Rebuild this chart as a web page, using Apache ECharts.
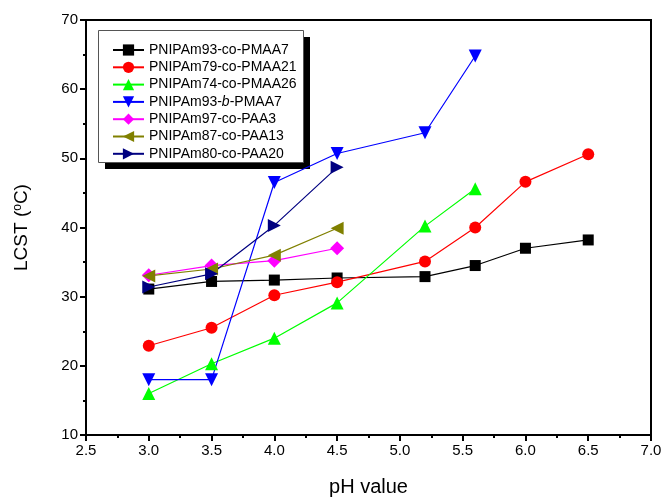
<!DOCTYPE html>
<html>
<head>
<meta charset="utf-8">
<script src="https://cdn.jsdelivr.net/npm/echarts@6/dist/echarts.min.js"></script>
<style>html,body{margin:0;padding:0;background:#fff}#c{width:666px;height:502px}</style>
</head>
<body>
<div id="c"></div>
<script>
// ---- data ----
const seriesNames = ['PNIPAm93-co-PMAA7','PNIPAm79-co-PMAA21','PNIPAm74-co-PMAA26','PNIPAm93-b-PMAA7','PNIPAm97-co-PAA3','PNIPAm87-co-PAA13','PNIPAm80-co-PAA20'];
const phPMAA7 = [3.0,3.5,4.0,4.5,5.2,5.6,6.0,6.5];
const lcstPMAA7 = [31.1,32.2,32.4,32.7,32.9,34.5,37.0,38.2];
const phPMAA21 = [3.0,3.5,4.0,4.5,5.2,5.6,6.0,6.5];
const lcstPMAA21 = [22.9,25.5,30.2,32.1,35.1,40.0,46.6,50.6];
const phPMAA26 = [3.0,3.5,4.0,4.5,5.2,5.6];
const lcstPMAA26 = [16.0,20.3,24.0,29.1,40.2,45.6];
const phBlock = [3.0,3.5,4.0,4.5,5.2,5.6];
const lcstBlock = [18.0,18.0,46.5,50.7,53.7,64.8];
const phPAA3 = [3.0,3.5,4.0,4.5];
const lcstPAA3 = [33.1,34.5,35.2,37.0];
const phPAA13 = [3.0,3.5,4.0,4.5];
const lcstPAA13 = [33.0,34.0,36.0,39.9];
const phPAA20 = [3.0,3.5,4.0,4.5];
const lcstPAA20 = [31.4,33.3,40.3,48.7];
const xTicks = {min:2.5, max:7.0, interval:0.5};
const yTicks = {min:10, max:70, interval:10};

const pairs = (xs, ys) => xs.map((x,i)=>[x, ys[i]]);
const FONT = 'Liberation Sans, Arial, sans-serif';

const styles = [
  {color:'#000000', symbol:'rect', size:11, rot:0},
  {color:'#ff0000', symbol:'circle', size:12, rot:0},
  {color:'#00ff00', symbol:'triangle', size:13, rot:0},
  {color:'#0000ff', symbol:'triangle', size:13, rot:180},
  {color:'#ff00ff', symbol:'diamond', size:14, rot:0},
  {color:'#808000', symbol:'triangle', size:13, rot:90},
  {color:'#000080', symbol:'triangle', size:13, rot:-90}
];
const dataSets = [
  pairs(phPMAA7, lcstPMAA7), pairs(phPMAA21, lcstPMAA21), pairs(phPMAA26, lcstPMAA26),
  pairs(phBlock, lcstBlock), pairs(phPAA3, lcstPAA3), pairs(phPAA13, lcstPAA13), pairs(phPAA20, lcstPAA20)
];

const series = seriesNames.map((n,i)=>({
  name:n, type:'line', data:dataSets[i],
  symbol:styles[i].symbol, symbolSize:styles[i].size, symbolRotate:styles[i].rot,
  lineStyle:{color:styles[i].color, width:1.2},
  itemStyle:{color:styles[i].color},
  animation:false
}));

const chart = echarts.init(document.getElementById('c'), null, {renderer:'canvas'});
chart.setOption({
  backgroundColor:'#fff',
  animation:false,
  grid:{left:86, right:15, top:20, bottom:65, show:true, borderColor:'#000', borderWidth:2, backgroundColor:'transparent'},
  graphic:[
    {type:'rect', z:3, shape:{x:105, y:37, width:205, height:132}, style:{fill:'#000'}, silent:true},
    {type:'rect', z:3, shape:{x:98.5, y:30.5, width:205, height:132}, style:{fill:'#fff', stroke:'#555', lineWidth:1}, silent:true}
  ],
  legend:{
    orient:'vertical', left:98, top:30, z:5,
    padding:[13,6,3,14], itemGap:3.3, itemWidth:31, itemHeight:14,
    backgroundColor:'transparent', borderWidth:0,
    textStyle:{fontFamily:FONT, fontSize:14, color:'#000',
      rich:{i:{fontFamily:FONT, fontSize:14, fontStyle:'italic', color:'#000'}}},
    formatter:(name)=> name.replace('-b-','-{i|b}-'),
    data:seriesNames
  },
  xAxis:{
    type:'value', min:xTicks.min, max:xTicks.max, interval:xTicks.interval,
    name:'pH value', nameLocation:'middle', nameGap:42,
    nameTextStyle:{fontFamily:FONT, fontSize:20, color:'#000'},
    axisLine:{show:true, onZero:false, lineStyle:{color:'#000', width:2}},
    axisTick:{show:true, inside:false, length:6, lineStyle:{color:'#000', width:2}},
    minorTick:{show:true, splitNumber:2, length:3, lineStyle:{color:'#000', width:2}},
    splitLine:{show:false},
    axisLabel:{fontFamily:FONT, fontSize:15, color:'#000', margin:8,
      formatter:(v)=>v.toFixed(1)}
  },
  yAxis:{
    type:'value', min:yTicks.min, max:yTicks.max, interval:yTicks.interval,
    name:'LCST ({sup|o}C)', nameLocation:'middle', nameGap:54, nameRotate:90,
    nameTextStyle:{fontFamily:FONT, fontSize:19, color:'#000',
      rich:{sup:{fontFamily:FONT, fontSize:12, color:'#000', verticalAlign:'top', padding:[0,0,8,0]}}},
    axisLine:{show:true, onZero:false, lineStyle:{color:'#000', width:2}},
    axisTick:{show:true, inside:false, length:6, lineStyle:{color:'#000', width:2}},
    minorTick:{show:true, splitNumber:2, length:3, lineStyle:{color:'#000', width:2}},
    splitLine:{show:false},
    axisLabel:{fontFamily:FONT, fontSize:15, color:'#000', margin:8}
  },
  series:series
});
</script>
</body>
</html>
